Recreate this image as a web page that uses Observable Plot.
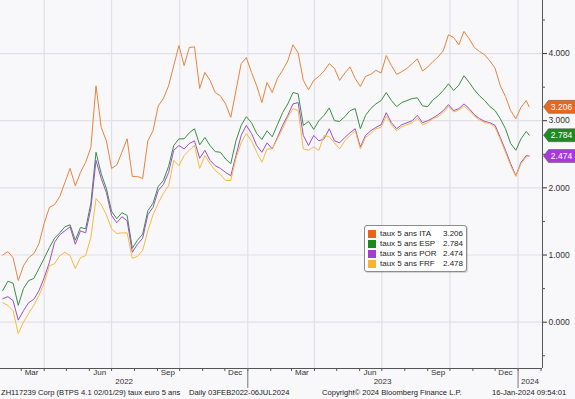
<!DOCTYPE html>
<html><head><meta charset="utf-8">
<script src="https://cdn.jsdelivr.net/npm/d3@7"></script>
<script src="https://cdn.jsdelivr.net/npm/@observablehq/plot@0.6"></script>
<style>
html,body{margin:0;padding:0;background:#f8f7f9;width:575px;height:399px;overflow:hidden;font-family:"Liberation Sans",Arial,sans-serif;}
#wrap{position:relative;width:575px;height:399px;}
#chart svg{display:block;}
#legend{position:absolute;left:364px;top:225px;width:103px;height:47px;background:#fff;border:1px solid #8c8c8c;border-radius:3px;box-sizing:border-box;padding:3px 3px 0 3px;font-size:8px;color:#222;box-shadow:1px 1px 1px rgba(0,0,0,0.15);}
.row{display:flex;align-items:center;height:10px;line-height:10px;}
.sw{width:8px;height:8px;margin-right:4px;flex:none;}
.nm{flex:1;white-space:nowrap;}
.vl{white-space:nowrap;}
#footer{position:absolute;top:388px;left:0;width:575px;height:11px;font-size:7.6px;color:#222;}
#footer span{position:absolute;top:0;white-space:nowrap;}
</style></head>
<body><div id="wrap"><div id="chart"></div><div id="legend"></div><div id="footer"></div></div>
<script>
// ---- data (weekly samples, last point = 16-Jan-2024) ----
const seriesNames = ["taux 5 ans ITA", "taux 5 ans ESP", "taux 5 ans POR", "taux 5 ans FRF"];
const lastValues = [3.206, 2.784, 2.474, 2.478];
const ita = [1.00,1.05,0.96,0.62,0.84,0.96,1.02,1.17,1.47,1.71,
1.75,1.87,2.08,2.29,2.03,2.23,2.38,2.60,3.52,2.90,
2.70,2.29,2.34,2.53,2.73,2.17,2.17,2.14,2.70,2.85,
3.22,3.33,3.52,3.82,4.12,3.82,4.09,4.10,3.48,3.72,
3.60,3.42,3.37,3.25,3.05,3.45,3.85,3.94,3.72,3.52,
3.27,3.57,3.42,3.63,3.75,3.89,4.13,4.01,3.60,3.46,
3.60,3.66,3.74,3.85,3.78,3.60,3.71,3.80,3.63,3.51,
3.66,3.69,3.75,3.71,3.97,3.82,3.69,3.73,3.78,3.85,
3.92,3.74,3.80,3.88,3.95,4.04,4.28,4.24,4.13,4.33,
4.22,4.09,4.03,3.98,3.89,3.78,3.52,3.36,3.15,3.03,
3.20,3.30,3.206];
const esp = [0.47,0.61,0.58,0.25,0.50,0.62,0.65,0.80,0.95,1.11,
1.25,1.33,1.42,1.45,1.22,1.41,1.39,1.77,2.53,2.21,
1.99,1.65,1.54,1.63,1.59,1.10,1.22,1.31,1.66,1.77,
2.02,2.11,2.32,2.63,2.73,2.73,2.82,2.88,2.64,2.75,
2.63,2.54,2.53,2.43,2.36,2.70,2.93,3.06,2.97,2.81,
2.72,2.85,2.76,2.94,3.12,3.25,3.42,3.40,2.93,2.99,
2.87,3.00,3.08,3.19,3.00,2.99,3.06,3.15,3.18,2.88,
3.08,3.18,3.25,3.30,3.42,3.30,3.21,3.27,3.30,3.33,
3.34,3.22,3.21,3.31,3.37,3.45,3.55,3.45,3.53,3.67,
3.57,3.46,3.37,3.30,3.21,3.15,3.03,2.88,2.66,2.56,
2.73,2.84,2.784];
const por = [0.35,0.38,0.32,0.03,0.17,0.29,0.34,0.47,0.66,0.89,
1.19,1.30,1.36,1.42,1.16,1.36,1.33,1.69,2.41,2.14,
1.93,1.59,1.48,1.57,1.51,1.04,1.16,1.25,1.60,1.71,
1.96,2.05,2.23,2.56,2.63,2.58,2.66,2.70,2.44,2.56,
2.41,2.33,2.29,2.23,2.18,2.48,2.78,2.93,2.81,2.63,
2.53,2.67,2.58,2.75,2.93,3.08,3.25,3.27,2.78,2.63,
2.78,2.70,2.73,2.88,2.70,2.67,2.75,2.82,2.88,2.61,
2.78,2.85,2.90,2.94,3.12,2.97,2.88,2.94,2.97,3.00,
3.08,2.97,3.00,3.04,3.09,3.15,3.24,3.15,3.18,3.25,
3.18,3.09,3.03,2.99,2.97,2.93,2.75,2.56,2.36,2.18,
2.38,2.48,2.474];
const frf = [0.29,0.25,0.17,-0.17,0.00,0.13,0.25,0.40,0.58,0.84,
0.87,0.99,1.04,0.99,0.80,0.96,0.99,1.26,1.84,1.75,
1.60,1.39,1.32,1.33,1.33,0.95,0.98,1.07,1.36,1.60,
1.77,1.92,2.03,2.41,2.33,2.48,2.56,2.63,2.29,2.48,
2.36,2.26,2.20,2.11,2.11,2.44,2.67,2.81,2.70,2.53,
2.38,2.58,2.58,2.73,2.88,3.05,3.18,3.15,2.58,2.56,
2.61,2.56,2.78,2.76,2.67,2.58,2.70,2.78,2.85,2.58,
2.75,2.81,2.88,2.90,3.07,2.94,2.85,2.91,2.94,2.97,
3.04,2.94,2.97,3.03,3.06,3.12,3.21,3.13,3.16,3.22,
3.15,3.07,3.01,2.97,2.96,2.90,2.72,2.53,2.33,2.17,
2.36,2.46,2.478];
const monthLabels = ["Mar","Jun","Sep","Dec","Mar","Jun","Sep","Dec"];
const monthLabelDates = ["2022-03-15","2022-06-15","2022-09-15","2022-12-15","2023-03-15","2023-06-15","2023-09-15","2023-12-15"];
const yearLabels = ["2022","2023","2024"];
const yTicks = [0,1,2,3,4];
const gridDates = ["2022-04-01","2022-07-01","2022-10-01","2023-01-01","2023-04-01","2023-07-01","2023-10-01","2024-01-01"];
const footerTexts = ["ZH117239 Corp (BTPS 4.1 02/01/29) taux euro 5 ans","Daily 03FEB2022-06JUL2024","Copyright\u00a9 2024 Bloomberg Finance L.P.","16-Jan-2024 09:54:01"];

// ---- styling ----
const lineColors = ["#ea8440","#3a8f45","#9d4fcc","#f7bb40"];
const tagColors = ["#e8681e","#1f8a24","#a83ad8","#fdb12d"];
const swatchColors = ["#e8641e","#1a8a1a","#a43bd6","#fdb12d"];

const dates = d3.utcFriday.range(new Date("2022-02-04"), new Date("2024-01-13")).concat([new Date("2024-01-16")]);
const allVals = [ita, esp, por, frf];
const rows = [];
allVals.forEach((vals, s) => vals.forEach((v, i) => rows.push({date: dates[i], value: v, s})));

const x0 = new Date("2022-02-01"), x1 = new Date("2024-02-03");
const yMin = -0.69, yMax = 4.79;
const P = d3.utcParse("%Y-%m-%d");

const tagShape = {draw(ctx){ctx.moveTo(-16,0);ctx.lineTo(-11,-6.5);ctx.lineTo(16,-6.5);ctx.lineTo(16,6.5);ctx.lineTo(-11,6.5);ctx.closePath();}};
const tags = [0,1,2].map(s => ({date: x1, value: lastValues[s], s, label: d3.format(".3f")(lastValues[s])}));

const drawOrder = [1,2,3,0];
const chart = Plot.plot({
  width: 575, height: 388,
  marginLeft: 0, marginRight: 33, marginTop: 0, marginBottom: 20,
  x: {type: "utc", domain: [x0, x1], axis: null},
  y: {domain: [yMin, yMax], axis: null},
  style: {background: "transparent", fontFamily: "Liberation Sans, Arial, sans-serif", fontSize: "8px", color: "#333", overflow: "visible"},
  marks: [
    Plot.ruleX(gridDates.map(P), {stroke: "#e2e0e5", strokeWidth: 1.2}),
    Plot.ruleY(yTicks, {stroke: "#e2e0e5", strokeWidth: 1.2}),
    ...drawOrder.map(s => Plot.line(rows.filter(r => r.s === s), {x: "date", y: "value", stroke: lineColors[s], strokeWidth: 1})),
    Plot.ruleX([x1], {stroke: "#555"}),
    Plot.ruleY([yMin], {stroke: "#555"}),
    Plot.axisY({anchor: "right", label: null, ticks: yTicks, tickFormat: d3.format(".3f"), tickSize: 4, tickPadding: 2, color: "#333", fontSize: 8.5}),
    Plot.axisY({anchor: "right", label: null, ticks: [-0.5,0.5,1.5,2.5,3.5,4.5], tickFormat: () => "", tickSize: 2, color: "#555"}),
    Plot.axisX({label: null, ticks: d3.utcMonth.range(P("2022-03-01"), x1), tickFormat: () => "", tickSize: 3, color: "#555"}),
    Plot.axisX({label: null, ticks: [P("2023-01-01"), P("2024-01-01")], tickFormat: () => "", tickSize: 20, color: "#777"}),
    Plot.text(monthLabels, {x: (d, i) => P(monthLabelDates[i]), text: d => d, frameAnchor: "bottom", dy: 6, fill: "#333", fontSize: 8}),
    Plot.text(yearLabels.slice(0,2), {x: (d, i) => [P("2022-07-18"), P("2023-07-02")][i], text: d => d, frameAnchor: "bottom", dy: 15, fill: "#333", fontSize: 8}),
    Plot.text([yearLabels[2]], {x: () => P("2024-01-01"), text: d => d, frameAnchor: "bottom", dy: 15, dx: 3, textAnchor: "start", fill: "#333", fontSize: 8}),
    Plot.dot(tags, {x: "date", y: "value", dx: 17, symbol: tagShape, r: 1, fill: d => tagColors[d.s], stroke: "#555", strokeWidth: 0.5}),
    Plot.text(tags, {x: "date", y: "value", dx: 19, text: "label", fill: "#fff", fontSize: 8.5})
  ]
});
document.getElementById("chart").append(chart);

// legend
const lg = document.getElementById("legend");
seriesNames.forEach((n, i) => {
  const r = document.createElement("div"); r.className = "row";
  r.innerHTML = `<span class="sw" style="background:${swatchColors[i]}"></span><span class="nm">${n}</span><span class="vl">${d3.format(".3f")(lastValues[i])}</span>`;
  lg.append(r);
});
// footer
const ft = document.getElementById("footer");
const footerX = [1, 189, 322, 492];
footerTexts.forEach((t, i) => { const s = document.createElement("span"); s.textContent = t; s.style.left = footerX[i] + "px"; ft.append(s); });
</script></body></html>
